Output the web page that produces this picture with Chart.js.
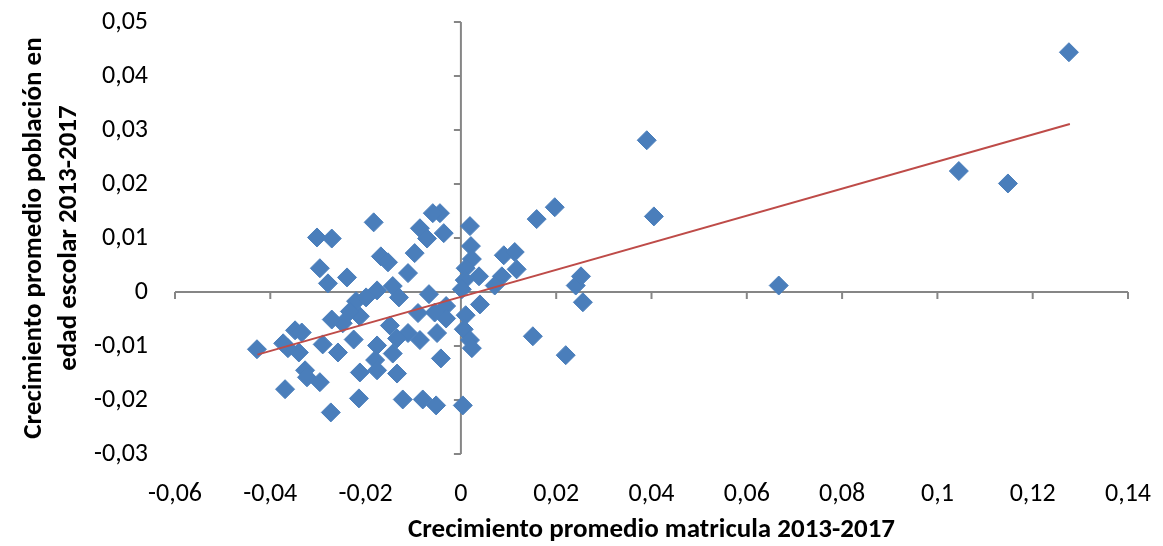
<!DOCTYPE html>
<html>
<head>
<meta charset="utf-8">
<script src="https://cdn.jsdelivr.net/npm/chart.js@4"></script>
<style>
  body { margin: 0; background: #fff; }
  .wrap { width: 1163px; height: 546px; position: relative; }
</style>
</head>
<body>
<div class="wrap"><canvas id="grafico"></canvas></div>
<script>
// datos (crecimiento promedio 2013-2017)
let crecMatricula = [
  0.1276, 0.1045, 0.1148, 0.0667, 0.0390, 0.0405, 0.0197, 0.0159, 0.0241, 0.0252,
  0.0256, 0.0151, 0.0220, 0.0019, 0.0021, 0.0023, 0.0010, 0.0038, 0.0008, 0.0002,
  0.0090, 0.0113, 0.0117, 0.0086, 0.0071, 0.0040, 0.0010, 0.0006, 0.0019, 0.0023,
  0.0004, -0.0044, -0.0036, -0.0031, -0.0031, -0.0050, -0.0042, -0.0052, -0.0080, -0.0059,
  -0.0086, -0.0071, -0.0097, -0.0111, -0.0067, -0.0090, -0.0055, -0.0086, -0.0111, -0.0183,
  -0.0168, -0.0153, -0.0176, -0.0143, -0.0130, -0.0220, -0.0199, -0.0239, -0.0302, -0.0271,
  -0.0296, -0.0279, -0.0149, -0.0134, -0.0176, -0.0225, -0.0212, -0.0233, -0.0248, -0.0271,
  -0.0143, -0.0180, -0.0176, -0.0212, -0.0134, -0.0214, -0.0122, -0.0258, -0.0290, -0.0340,
  -0.0363, -0.0373, -0.0348, -0.0334, -0.0428, -0.0327, -0.0323, -0.0296, -0.0369, -0.0273
];
let crecPoblacion = [
  0.0444, 0.0224, 0.0201, 0.0012, 0.0281, 0.0140, 0.0157, 0.0135, 0.0012, 0.0029,
  -0.0019, -0.0082, -0.0117, 0.0122, 0.0085, 0.0061, 0.0044, 0.0029, 0.0022, 0.0005,
  0.0068, 0.0074, 0.0042, 0.0029, 0.0012, -0.0023, -0.0043, -0.0069, -0.0089, -0.0104,
  -0.0210, 0.0146, 0.0109, -0.0026, -0.0049, -0.0076, -0.0123, -0.0210, -0.0199, 0.0146,
  0.0118, 0.0099, 0.0072, 0.0035, -0.0004, -0.0039, -0.0038, -0.0089, -0.0076, 0.0129,
  0.0066, 0.0055, 0.0003, 0.0011, -0.0010, -0.0017, -0.0010, 0.0027, 0.0101, 0.0099,
  0.0044, 0.0016, -0.0062, -0.0086, -0.0099, -0.0088, -0.0045, -0.0036, -0.0058, -0.0051,
  -0.0114, -0.0126, -0.0145, -0.0149, -0.0151, -0.0197, -0.0199, -0.0112, -0.0097, -0.0112,
  -0.0104, -0.0095, -0.0071, -0.0075, -0.0106, -0.0145, -0.0158, -0.0167, -0.0180, -0.0223
];
// linea de tendencia (extremos)
let tendenciaX = [-0.0427, 0.1278];
let tendenciaY = [-0.0116, 0.0311];

let ejeX = { min: -0.06, max: 0.14, paso: 0.02 };
let ejeY = { min: -0.03, max: 0.05, paso: 0.01 };

let fuente = 'Carlito, Lato, sans-serif';

let puntos = crecMatricula.map((v, i) => ({ x: v, y: crecPoblacion[i] }));
let tendencia = tendenciaX.map((v, i) => ({ x: v, y: tendenciaY[i] }));

let formatoComa = (v) => String(parseFloat(Number(v).toFixed(2))).replace('.', ',');

// ejes que se cruzan en cero, con sus marcas
const ejesCero = {
  id: 'ejesCero',
  beforeDatasetsDraw(chart) {
    const { ctx, chartArea, scales } = chart;
    const x0 = scales.x.getPixelForValue(0);
    const y0 = scales.y.getPixelForValue(0);
    ctx.save();
    ctx.strokeStyle = '#868686';
    ctx.lineWidth = 2;
    ctx.beginPath();
    ctx.moveTo(chartArea.left, y0);
    ctx.lineTo(chartArea.right, y0);
    scales.x.ticks.forEach(t => {
      const px = scales.x.getPixelForValue(t.value);
      ctx.moveTo(px, y0);
      ctx.lineTo(px, y0 + 7);
    });
    ctx.moveTo(x0, chartArea.top);
    ctx.lineTo(x0, chartArea.bottom);
    scales.y.ticks.forEach(t => {
      const py = scales.y.getPixelForValue(t.value);
      ctx.moveTo(x0 - 7, py);
      ctx.lineTo(x0, py);
    });
    ctx.stroke();
    ctx.restore();
  }
};

let ctx = document.getElementById('grafico').getContext('2d');

let myChart = new Chart(ctx, {
  type: 'scatter',
  data: {
    datasets: [{
      type: 'line',
      label: 'Tendencia',
      data: tendencia,
      borderColor: '#BE4B48',
      borderWidth: 2,
      pointRadius: 0,
      fill: false,
      order: 0
    }, {
      label: 'Comunas',
      data: puntos,
      pointStyle: 'rectRot',
      pointRadius: 9.5,
      backgroundColor: '#4A7EBB',
      borderColor: '#4A7EBB',
      borderWidth: 1,
      order: 1
    }]
  },
  options: {
    responsive: true,
    maintainAspectRatio: false,
    animation: false,
    layout: { padding: { top: 22, right: 35, left: 0, bottom: 0 } },
    plugins: {
      legend: { display: false },
      tooltip: { enabled: false }
    },
    scales: {
      x: {
        type: 'linear',
        min: ejeX.min,
        max: ejeX.max,
        afterFit: (scale) => {
          scale.height = 92;
          scale.paddingLeft = 0;
          scale.paddingRight = 0;
        },
        grid: { display: false, drawTicks: false },
        border: { display: false },
        ticks: {
          stepSize: ejeX.paso,
          padding: 25,
          color: '#000',
          font: { family: fuente, size: 26 },
          callback: formatoComa
        },
        title: {
          display: true,
          text: 'Crecimiento promedio matricula 2013-2017',
          color: '#000',
          padding: { top: 0, bottom: 0 },
          font: { family: fuente, size: 27, weight: 'bold', lineHeight: 1.2 }
        }
      },
      y: {
        type: 'linear',
        min: ejeY.min,
        max: ejeY.max,
        afterFit: (scale) => {
          scale.width = 175;
          scale.paddingTop = 0;
          scale.paddingBottom = 0;
        },
        grid: { display: false, drawTicks: false },
        border: { display: false },
        ticks: {
          stepSize: ejeY.paso,
          padding: 27,
          color: '#000',
          font: { family: fuente, size: 26 },
          callback: formatoComa
        },
        title: {
          display: true,
          text: ['Crecimiento promedio población en', 'edad escolar 2013-2017'],
          color: '#000',
          padding: { top: 17, bottom: 0 },
          font: { family: fuente, size: 27, weight: 'bold', lineHeight: 1.3 }
        }
      }
    }
  },
  plugins: [ejesCero]
});
</script>
</body>
</html>
